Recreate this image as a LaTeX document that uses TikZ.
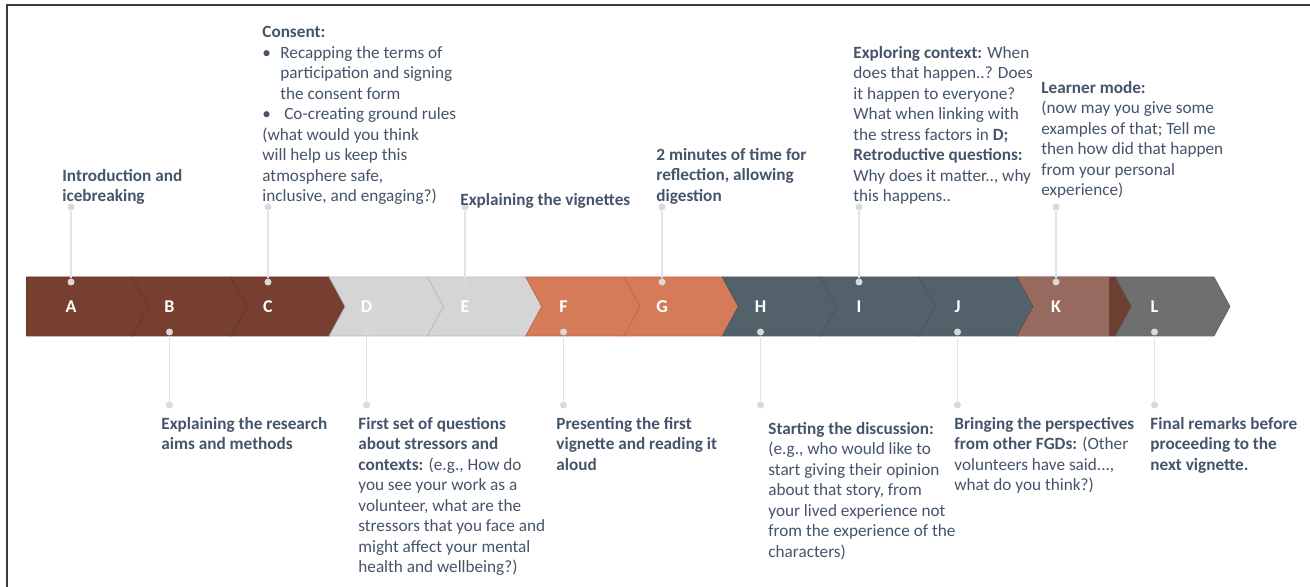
\documentclass[tikz,border=0pt]{standalone}
\usepackage{fontspec}
\setmainfont{Carlito}
\definecolor{txt}{HTML}{44546A}
\definecolor{brownD}{HTML}{773F30}
\definecolor{grayL}{HTML}{D5D5D5}
\definecolor{orangeF}{HTML}{D67B57}
\definecolor{slateH}{HTML}{53626A}
\definecolor{brownK}{HTML}{976A60}
\definecolor{darkK}{HTML}{6D4034}
\definecolor{grayM}{HTML}{6F6F6F}
\definecolor{dotc}{HTML}{D9D9D9}
\definecolor{linec}{HTML}{E3E3E3}
\definecolor{framec}{HTML}{3A3A3A}
\newcommand{\lblsize}{\fontsize{8.6pt}{10.25pt}\selectfont}
\tikzset{
  lbl/.style={anchor=north west, align=left, inner sep=0pt, text=txt,
    font=\lblsize, execute at begin node={\rule{0pt}{8pt}}},
  lblb/.style={lbl, font=\lblsize\bfseries},
  letter/.style={text=white, font=\fontsize{9pt}{10pt}\selectfont\bfseries, inner sep=0pt},
  dotst/.style={circle, fill=dotc, minimum size=3.5pt, inner sep=0pt},
  conn/.style={draw=linec, line width=0.75pt},
}
\begin{document}
\begin{tikzpicture}[x=0.5pt,y=-0.5pt]
\useasboundingbox (0,0) rectangle (1310,587);
% frame along the top and left edges
\draw[framec, line width=1pt] (7,587) -- (7,5) -- (1310,5);

% chevron band
\foreach \i/\c in {0/brownD,1/brownD,2/brownD,3/grayL,4/grayL,5/orangeF,6/orangeF,7/slateH,8/slateH,9/slateH,10/darkK,11/grayM} {
  \pgfmathsetmacro\r{132.6+98.3*\i}
  \pgfmathsetmacro\l{\i==0 ? 26.5 : 132.6+98.3*(\i-1)}
  \pgfmathsetmacro\d{\i==0 ? 0 : 16}
  \filldraw[fill=\c, draw=\c!88!black, line width=0.4pt]
    (\l,277) -- (\r,277) -- ({\r+16},306.5) -- (\r,336) -- (\l,336) -- ({\l+\d},306.5) -- cycle;
}
% lighter body of step K
\fill[brownK] (1017.3,277) -- (1109,277) -- (1109,336) -- (1017.3,336) -- (1033.3,306.5) -- cycle;

% step letters
\foreach \n [count=\k from 0] in {A,B,C,D,E,F,G,H,I,J,K,L}
  \node[letter] (l\n) at ({71+98.5*\k},307) {\n};

% markers above the band
\foreach \n/\k in {A/0,C/2,E/4,G/6,I/8,K/10} {
  \node[dotst] (t\n) at ({71+98.5*\k},207) {};
  \node[dotst] (b\n) at ({71+98.5*\k},282) {};
  \draw[conn] (t\n) -- (b\n);
}
% markers below the band
\foreach \n/\k in {B/1,D/3,F/5,H/7,J/9,L/11} {
  \node[dotst] (b\n) at ({71+98.5*\k},332) {};
  \node[dotst] (t\n) at ({71+98.5*\k},405) {};
  \draw[conn] (b\n) -- (t\n);
}

% labels above the band
\node[lblb] (xA) at (62,169) {Introduction and\\icebreaking};
\node[lbl] (xC) at (262,26) {\textbf{Consent:}\\
\makebox[9pt][l]{•}Recapping the terms of\\
\hspace*{9pt}participation and signing\\
\hspace*{9pt}the consent form\\
\makebox[9pt][l]{•} Co-creating ground rules\\
(what would you think\\
will help us keep this\\
atmosphere safe,\\
inclusive, and engaging?)};
\node[lblb] (xE) at (460,189) {Explaining the vignettes};
\node[lblb] (xG) at (656,148) {2 minutes of time for\\reflection, allowing\\digestion};
\node[lbl] (xI) at (853,46) {\textbf{Exploring context:} When\\
does that happen..? Does\\
it happen to everyone?\\
What when linking with\\
the stress factors in \textbf{D;}\\
\textbf{Retroductive questions:}\\
Why does it matter.., why\\
this happens..};
\node[lbl] (xK) at (1041,81) {\textbf{Learner mode:}\\
(now may you give some\\
examples of that; Tell me\\
then how did that happen\\
from your personal\\
experience)};

% labels below the band
\node[lblb] (xB) at (161,417) {Explaining the research\\aims and methods};
\node[lbl] (xD) at (358,417) {\textbf{First set of questions}\\
\textbf{about stressors and}\\
\textbf{contexts:} (e.g., How do\\
you see your work as a\\
volunteer, what are the\\
stressors that you face and\\
might affect your mental\\
health and wellbeing?)};
\node[lblb] (xF) at (556,417) {Presenting the first\\vignette and reading it\\aloud};
\node[lbl] (xH) at (768,422) {\textbf{Starting the discussion:}\\
(e.g., who would like to\\
start giving their opinion\\
about that story, from\\
your lived experience not\\
from the experience of the\\
characters)};
\node[lbl] (xJ) at (954,417) {\textbf{Bringing the perspectives}\\
\textbf{from other FGDs:} (Other\\
volunteers have said...,\\
what do you think?)};
\node[lblb] (xL) at (1150,417) {Final remarks before\\proceeding to the\\next vignette.};
\end{tikzpicture}
\end{document}
